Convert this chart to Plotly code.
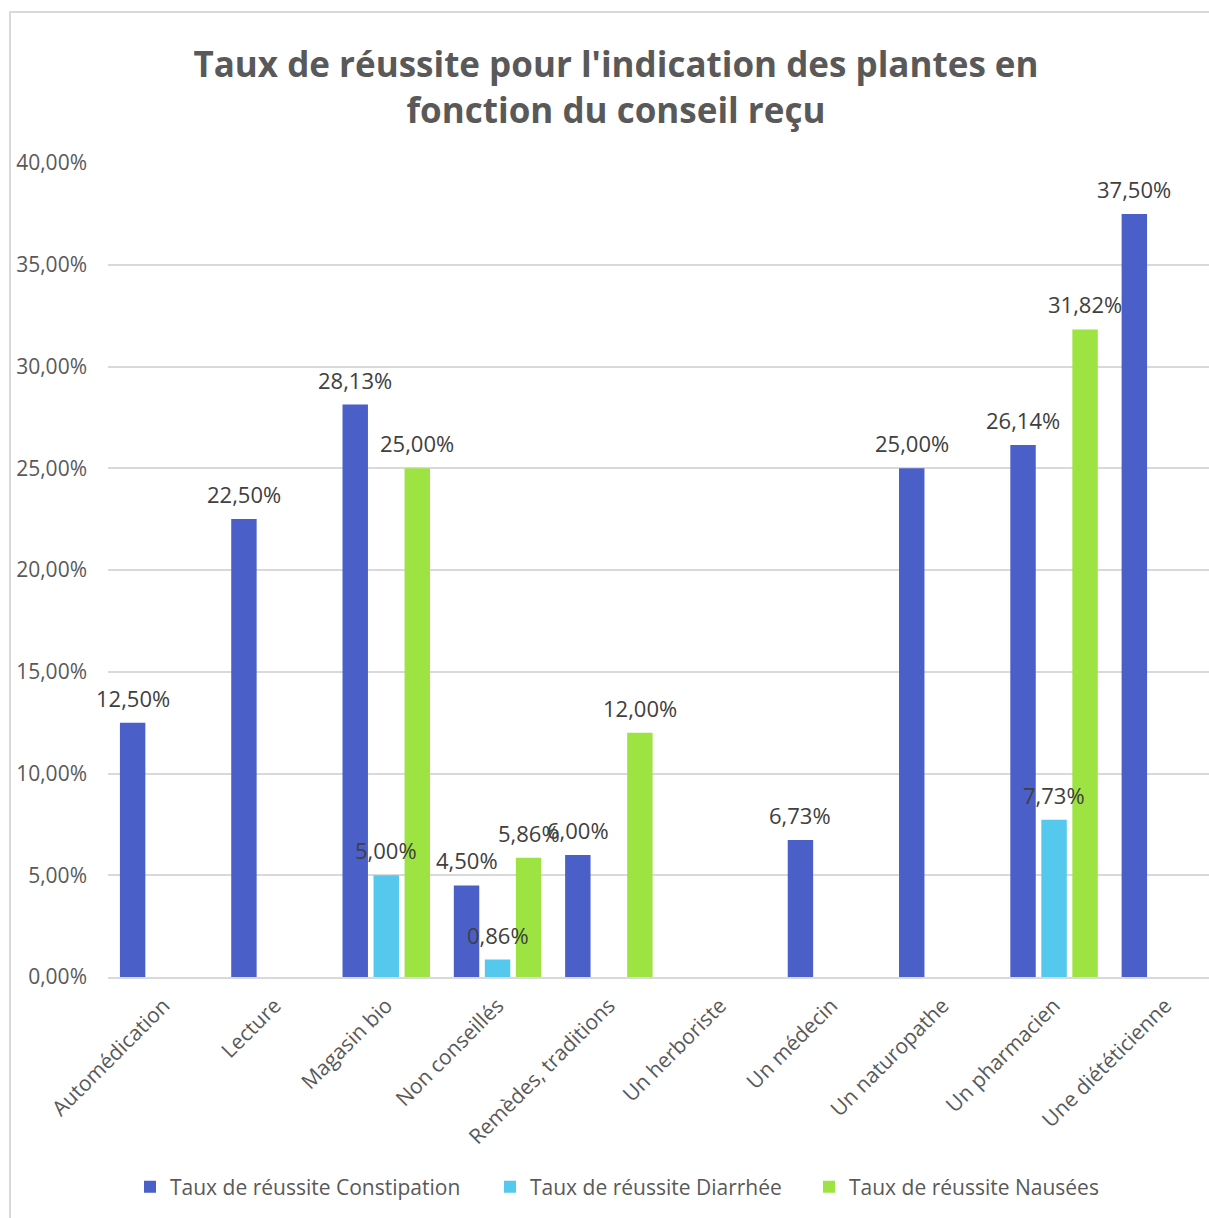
import plotly.graph_objects as go

# Categories (source of advice) and success rates per symptom, in percent
categories = [
    "Automédication", "Lecture", "Magasin bio", "Non conseillés",
    "Remèdes, traditions", "Un herboriste", "Un médecin",
    "Un naturopathe", "Un pharmacien", "Une diététicienne",
]
constipation = [12.50, 22.50, 28.13, 4.50, 6.00, None, 6.73, 25.00, 26.14, 37.50]
diarrhee = [None, None, 5.00, 0.86, None, None, None, None, 7.73, None]
nausees = [None, None, 25.00, 5.86, 12.00, None, None, None, 31.82, None]

series_names = [
    "Taux de réussite Constipation",
    "Taux de réussite Diarrhée",
    "Taux de réussite Nausées",
]
series_values = [constipation, diarrhee, nausees]
series_colors = ["#4a5fc8", "#55c8ee", "#9de443"]
y_ticks = [0, 5, 10, 15, 20, 25, 30, 35, 40]


def fr_pct(v):
    return f"{v:.2f}".replace(".", ",") + "%"


FONT = "Open Sans"
W, H = 1209, 1218
M_L, M_R, M_T, M_B = 108, 0, 163, 241
plot_w = W - M_L - M_R
plot_h = H - M_T - M_B
cat_px = 111.3                      # width of one category in pixels
x_max = -0.5 + plot_w / cat_px
bargap = 0.164
slot_px = cat_px * (1 - bargap) / 3  # horizontal offset between grouped bars

fig = go.Figure()
legend_ids = ["legend", "legend2", "legend3"]
for name, vals, col, lg in zip(series_names, series_values, series_colors, legend_ids):
    fig.add_trace(go.Bar(
        x=categories, y=vals, name=name, legend=lg, showlegend=True,
        marker=dict(color=col, line=dict(width=0)),
    ))

# value labels above each bar
annotations = []
for i, vals in enumerate(series_values):
    for cat, v in zip(categories, vals):
        if v is None:
            continue
        annotations.append(dict(
            x=cat, y=v, xref="x", yref="y",
            text=fr_pct(v),
            showarrow=False, xanchor="center", yanchor="middle",
            xshift=(i - 1) * slot_px, yshift=25,
            font=dict(family=FONT, size=22, color="#404040"),
        ))

legend_common = dict(
    orientation="h", yanchor="middle", y=(977 - 1187) / plot_h,
    xanchor="left", font=dict(family=FONT, size=21, color="#595959"),
    bgcolor="rgba(0,0,0,0)", itemwidth=30, traceorder="normal",
)

fig.update_layout(
    width=W, height=H,
    margin=dict(l=M_L, r=M_R, t=M_T, b=M_B, pad=0),
    paper_bgcolor="white", plot_bgcolor="white",
    showlegend=True,
    barmode="group", bargap=bargap, bargroupgap=0.18,
    title=dict(
        text="Taux de réussite pour l'indication des plantes en<br>fonction du conseil reçu",
        x=616 / W, xref="container", xanchor="center",
        y=1 - 77 / H, yref="container", yanchor="middle",
        font=dict(family=FONT, size=35, color="#595959", weight="bold"),
    ),
    xaxis=dict(
        type="category", range=[-0.5, x_max], tickangle=-45,
        showgrid=False, showline=True, linecolor="#d9d9d9", linewidth=2,
        ticks="", tickfont=dict(family=FONT, size=21, color="#595959"),
        ticklabelstandoff=6,
    ),
    yaxis=dict(
        range=[0, 40], tickvals=y_ticks, ticktext=[fr_pct(t) for t in y_ticks],
        showgrid=True, gridcolor="#d9d9d9", gridwidth=2,
        zeroline=False, showline=False, ticks="",
        tickfont=dict(family=FONT, size=21, color="#595959"),
        ticklabelstandoff=20,
    ),
    legend=dict(**legend_common, x=(130 - M_L) / plot_w),
    legend2=dict(**legend_common, x=(490 - M_L) / plot_w),
    legend3=dict(**legend_common, x=(809 - M_L) / plot_w),
    annotations=annotations,
    shapes=[dict(
        type="rect", xref="paper", yref="paper",
        x0=(10 - M_L) / plot_w, x1=1.05,
        y0=-0.35, y1=(977 - 12) / plot_h,
        line=dict(color="#d9d9d9", width=2), layer="below",
    )],
)

fig.write_html("out.html")
